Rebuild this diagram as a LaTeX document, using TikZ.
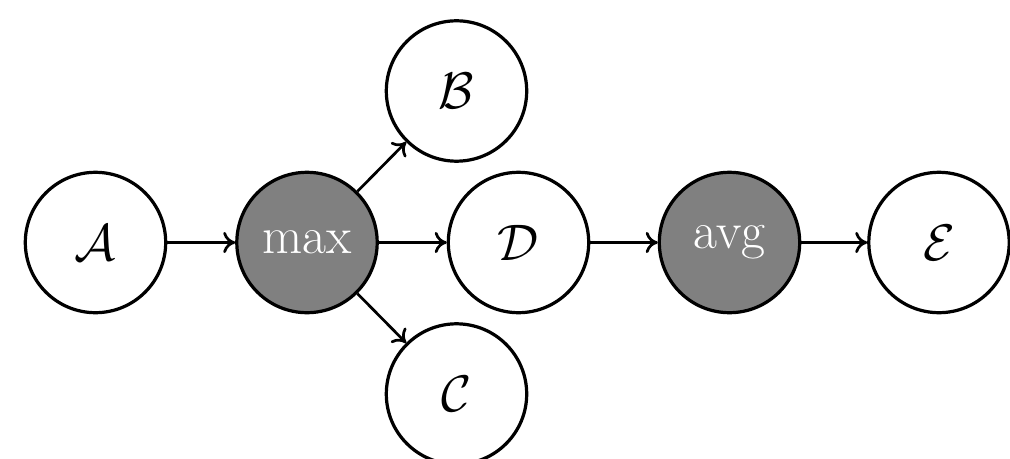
\documentclass[tikz,border=0pt]{standalone}
\usepackage{amsfonts}
\usetikzlibrary{arrows.meta}
\tikzset{
  var/.style={circle, draw, line width=1.3pt, minimum size=1.99cm, inner sep=0pt, fill=white,
    font=\fontsize{21}{25}\selectfont},
  op/.style={var, fill=gray, text=white},
  flow/.style={-{To[length=1.7mm,width=3mm]}, line width=1.1pt}
}
\begin{document}
\begin{tikzpicture}[x=0.01418cm, y=-0.01418cm]
  \useasboundingbox (0,0) rectangle (1010,458);
  \node[var] (A)   at (95.5,242.5)  {$\mathcal{A}$};
  \node[op]  (max) at (307,242.5)   {max};
  \node[var] (B)   at (456.5,91)    {$\mathcal{B}$};
  \node[var] (D)   at (518.5,242.5) {$\mathcal{D}$};
  \node[var] (C)   at (456.5,394)   {$\mathcal{C}$};
  \node[op]  (avg) at (729.5,242.5) {avg};
  \node[var] (E)   at (939,242.5)   {$\mathcal{E}$};
  \draw[flow] (A) -- (max);
  \draw[flow] (max) -- (B);
  \draw[flow] (max) -- (D);
  \draw[flow] (max) -- (C);
  \draw[flow] (D) -- (avg);
  \draw[flow] (avg) -- (E);
\end{tikzpicture}
\end{document}
